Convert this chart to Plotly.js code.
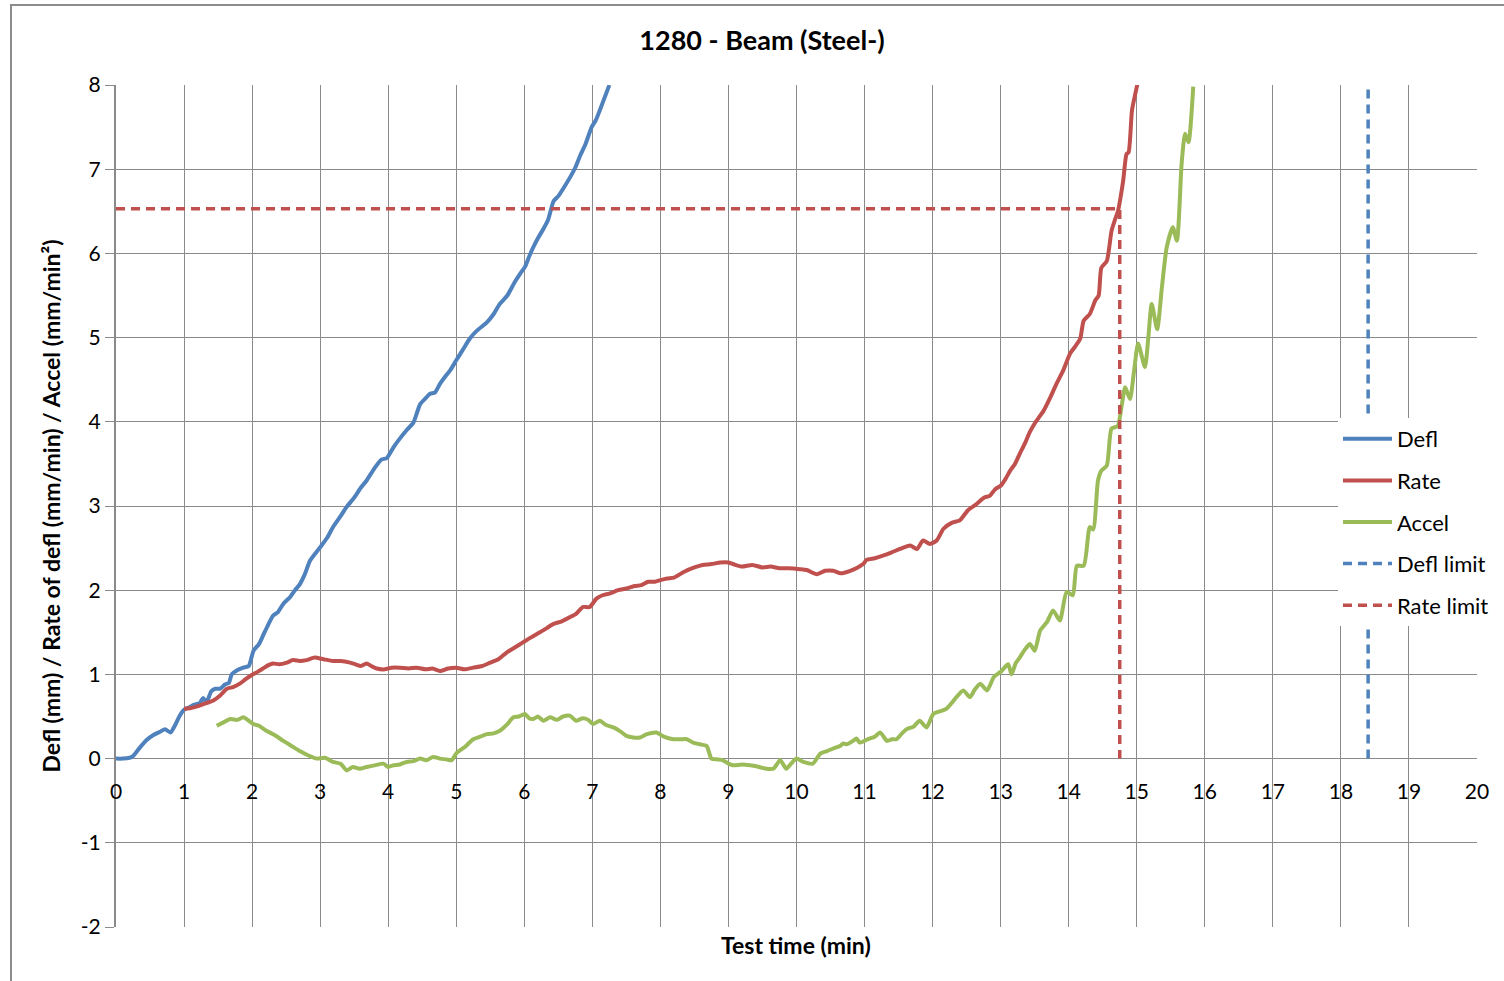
<!DOCTYPE html>
<html>
<head>
<meta charset="utf-8">
<script src="https://cdn.plot.ly/plotly-3.0.1.min.js"></script>
<style>html,body{margin:0;padding:0;background:#fff;}#chart{width:1504px;height:981px;}</style>
</head>
<body>
<div id="chart"></div>
<script>
// ---- Data ----
const chartTitle = "1280 - Beam (Steel-)";
const xTitle = "Test time (min)";
const yTitle = "Defl (mm) / Rate of defl (mm/min) / Accel (mm/min²)";
const seriesNames = ["Defl", "Rate", "Accel", "Defl limit", "Rate limit"];

const deflT = [0,0.1,0.2,0.25,0.35,0.45,0.55,0.65,0.72,0.8,0.87,0.93,1.0,1.08,1.15,1.23,1.28,1.33,1.4,1.46,1.53,1.6,1.66,1.7,1.78,1.87,1.95,2.02,2.1,2.16,2.23,2.31,2.38,2.46,2.56,2.63,2.7,2.78,2.85,3.0,3.1,3.19,3.3,3.39,3.5,3.6,3.68,3.8,3.9,3.98,4.08,4.17,4.27,4.37,4.47,4.55,4.61,4.69,4.76,4.85,4.91,5.0,5.1,5.2,5.3,5.45,5.55,5.64,5.75,5.86,5.94,6.01,6.07,6.13,6.2,6.28,6.35,6.43,6.5,6.58,6.67,6.75,6.82,6.9,6.99,7.05,7.11,7.18,7.25];
const deflV = [0,0,0.01,0.03,0.13,0.22,0.28,0.32,0.35,0.31,0.4,0.5,0.58,0.61,0.64,0.66,0.72,0.67,0.8,0.83,0.83,0.88,0.9,1.0,1.05,1.08,1.1,1.28,1.36,1.46,1.58,1.7,1.74,1.84,1.92,2.0,2.07,2.2,2.35,2.51,2.62,2.75,2.88,2.99,3.1,3.22,3.30,3.45,3.55,3.57,3.7,3.80,3.9,3.99,4.21,4.28,4.33,4.35,4.45,4.55,4.61,4.73,4.86,4.99,5.08,5.18,5.28,5.40,5.5,5.66,5.76,5.84,5.96,6.07,6.18,6.29,6.4,6.62,6.68,6.78,6.9,7.02,7.16,7.3,7.5,7.58,7.7,7.85,8.0];

const rateT = [1.0,1.1,1.23,1.33,1.43,1.53,1.63,1.72,1.82,1.9,1.99,2.08,2.16,2.24,2.31,2.4,2.51,2.6,2.7,2.8,2.92,3.05,3.19,3.3,3.44,3.52,3.6,3.68,3.75,3.83,3.95,4.05,4.17,4.3,4.42,4.55,4.65,4.76,4.88,5.0,5.12,5.25,5.38,5.5,5.62,5.74,5.86,5.98,6.1,6.23,6.33,6.43,6.55,6.67,6.76,6.86,6.96,7.06,7.15,7.25,7.38,7.5,7.62,7.72,7.82,7.92,8.0,8.1,8.2,8.35,8.5,8.62,8.75,8.88,9.0,9.1,9.2,9.35,9.5,9.62,9.75,9.88,10.05,10.15,10.3,10.42,10.54,10.65,10.79,10.9,10.98,11.03,11.15,11.27,11.4,11.52,11.67,11.77,11.86,11.96,12.06,12.16,12.28,12.4,12.52,12.64,12.76,12.84,12.92,13.0,13.07,13.14,13.21,13.28,13.36,13.43,13.5,13.56,13.63,13.73,13.82,13.92,14.02,14.1,14.17,14.22,14.31,14.39,14.44,14.48,14.56,14.63,14.68,14.72,14.8,14.85,14.88,14.93,14.98,15.02];
const rateV = [0.59,0.6,0.63,0.66,0.69,0.75,0.83,0.85,0.89,0.94,0.99,1.03,1.07,1.11,1.13,1.12,1.14,1.17,1.16,1.17,1.2,1.18,1.16,1.16,1.14,1.12,1.1,1.13,1.1,1.07,1.06,1.08,1.08,1.07,1.08,1.06,1.07,1.04,1.07,1.08,1.06,1.08,1.1,1.14,1.18,1.26,1.32,1.38,1.44,1.5,1.55,1.6,1.63,1.68,1.72,1.8,1.8,1.9,1.94,1.96,2.0,2.02,2.05,2.06,2.1,2.1,2.12,2.14,2.15,2.22,2.27,2.3,2.31,2.33,2.33,2.3,2.28,2.3,2.27,2.28,2.26,2.26,2.25,2.24,2.19,2.23,2.23,2.2,2.23,2.27,2.31,2.36,2.38,2.41,2.45,2.49,2.53,2.49,2.59,2.55,2.59,2.73,2.8,2.83,2.95,3.02,3.1,3.12,3.2,3.24,3.32,3.42,3.5,3.62,3.75,3.88,3.98,4.05,4.13,4.29,4.45,4.61,4.81,4.9,4.99,5.2,5.28,5.44,5.5,5.83,5.91,6.27,6.4,6.49,6.86,7.18,7.2,7.7,7.9,8.05];

const accelT = [1.48,1.58,1.68,1.78,1.87,1.95,2.02,2.1,2.21,2.33,2.46,2.58,2.7,2.82,2.95,3.07,3.19,3.3,3.39,3.48,3.58,3.68,3.8,3.93,4.0,4.07,4.17,4.27,4.37,4.47,4.56,4.66,4.76,4.86,4.93,5.01,5.13,5.25,5.35,5.45,5.55,5.64,5.74,5.84,5.92,6.01,6.07,6.13,6.2,6.28,6.38,6.48,6.57,6.67,6.76,6.86,6.94,7.01,7.11,7.2,7.31,7.4,7.5,7.6,7.7,7.8,7.94,8.05,8.19,8.3,8.39,8.48,8.58,8.68,8.75,8.84,8.92,9.0,9.07,9.2,9.32,9.45,9.56,9.66,9.76,9.85,9.92,10.0,10.1,10.24,10.35,10.45,10.54,10.64,10.69,10.74,10.83,10.88,10.93,11.05,11.15,11.23,11.33,11.4,11.47,11.55,11.62,11.72,11.81,11.91,12.01,12.1,12.2,12.28,12.35,12.45,12.55,12.62,12.7,12.8,12.9,13.0,13.11,13.16,13.22,13.28,13.36,13.43,13.5,13.58,13.68,13.77,13.87,13.97,14.06,14.12,14.22,14.31,14.36,14.43,14.48,14.56,14.63,14.72,14.78,14.83,14.9,14.96,15.02,15.12,15.17,15.22,15.3,15.37,15.44,15.53,15.59,15.66,15.71,15.76,15.83];
const accelV = [0.39,0.43,0.47,0.46,0.49,0.45,0.41,0.39,0.33,0.28,0.21,0.15,0.09,0.04,0.0,0.01,-0.04,-0.06,-0.14,-0.1,-0.12,-0.1,-0.08,-0.06,-0.1,-0.08,-0.07,-0.04,-0.03,0.0,-0.02,0.02,0.0,-0.01,-0.02,0.07,0.14,0.23,0.26,0.29,0.3,0.33,0.4,0.49,0.5,0.53,0.48,0.47,0.5,0.45,0.49,0.46,0.5,0.51,0.45,0.48,0.46,0.41,0.45,0.4,0.37,0.33,0.27,0.25,0.25,0.29,0.31,0.26,0.23,0.23,0.23,0.19,0.17,0.15,0.0,-0.01,-0.02,-0.06,-0.08,-0.07,-0.08,-0.1,-0.12,-0.12,-0.02,-0.12,-0.06,0.0,-0.04,-0.06,0.06,0.09,0.12,0.15,0.18,0.17,0.21,0.24,0.19,0.23,0.26,0.31,0.21,0.23,0.23,0.3,0.35,0.38,0.45,0.37,0.53,0.56,0.59,0.66,0.73,0.81,0.73,0.82,0.89,0.81,0.97,1.03,1.12,1.0,1.13,1.2,1.3,1.36,1.28,1.52,1.62,1.76,1.64,1.98,1.94,2.29,2.29,2.75,2.72,3.3,3.42,3.48,3.92,3.95,4.2,4.41,4.27,4.6,4.93,4.65,5.0,5.4,5.1,5.6,6.07,6.31,6.15,7.07,7.42,7.32,7.98];

const deflLimitT = [18.4, 18.4];
const deflLimitV = [0, 8];
const rateLimitT = [0, 14.75, 14.75];
const rateLimitV = [6.53, 6.53, 0];

const yTicks = [-2,-1,0,1,2,3,4,5,6,7,8];
const xTicks = [0,1,2,3,4,5,6,7,8,9,10,11,12,13,14,15,16,17,18,19,20];

// ---- Styling ----
const BLUE = "#4F81BD", RED = "#C0504D", GREEN = "#9BBB59";
const GRID = "#8a8a8a";
const FONT = "Lato, 'Open Sans', sans-serif";

const traces = [
  {x: deflT, y: deflV, name: seriesNames[0], line: {color: BLUE, width: 4, shape: "spline", smoothing: 0.6}},
  {x: rateT, y: rateV, name: seriesNames[1], line: {color: RED, width: 4, shape: "spline", smoothing: 0.6}},
  {x: accelT, y: accelV, name: seriesNames[2], line: {color: GREEN, width: 4, shape: "spline", smoothing: 0.6}},
  {x: deflLimitT, y: deflLimitV, name: seriesNames[3], line: {color: BLUE, width: 3.5, dash: "9px,6px"}},
  {x: rateLimitT, y: rateLimitV, name: seriesNames[4], line: {color: RED, width: 3.5, dash: "9px,6px"}}
].map((t, i) => Object.assign(t, {type: "scatter", mode: "lines", legendgroup: "g" + i, hoverinfo: "skip"}));

// plot area pixel geometry
const L = 116, R = 27, T = 85, B = 54, W = 1504, H = 981;
const pw = W - L - R, ph = H - T - B;
const px2x = p => (p - L) / pw;
const py2y = p => (H - B - p) / ph;

const layout = {
  width: W, height: H,
  margin: {l: L, r: R, t: T, b: B, autoexpand: false},
  paper_bgcolor: "#fff", plot_bgcolor: "#fff",
  font: {family: FONT, size: 20, color: "#000"},
  showlegend: true,
  title: {text: chartTitle, x: 762 / W, xref: "container", xanchor: "center", y: 1 - 41 / H, yref: "container", yanchor: "middle",
          font: {family: FONT, size: 27, weight: "bold", color: "#000"}},
  xaxis: {
    range: [0, 20], tickvals: xTicks, ticktext: xTicks.map(String),
    anchor: "free", position: 0.2,
    showgrid: true, gridcolor: GRID, gridwidth: 1,
    zeroline: false, showline: false,
    ticks: "outside", ticklen: 14, tickcolor: "rgba(0,0,0,0)",
    tickfont: {family: FONT, size: 21, color: "#000"}
  },
  yaxis: {
    range: [-2, 8], tickvals: yTicks, ticktext: yTicks.map(String),
    showgrid: true, gridcolor: GRID, gridwidth: 1,
    zeroline: false, showline: true, linecolor: GRID, linewidth: 2,
    ticks: "outside", ticklen: 9, tickcolor: GRID,
    tickfont: {family: FONT, size: 21, color: "#000"},
    title: {text: yTitle, standoff: 14, font: {family: FONT, size: 23, weight: "bold", color: "#000"}}
  },
  legend: {
    x: px2x(1338), y: py2y(418), xanchor: "left", yanchor: "top",
    bgcolor: "#fff", borderwidth: 0,
    font: {family: FONT, size: 22, color: "#000"},
    itemwidth: 49,
    traceorder: "grouped", tracegroupgap: 10
  },
  annotations: [
    {text: xTitle, xref: "paper", yref: "paper", x: px2x(796), y: py2y(945), xanchor: "center", yanchor: "middle",
     showarrow: false, font: {family: FONT, size: 23, weight: "bold", color: "#000"}}
  ],
  shapes: [
    {type: "rect", xref: "paper", yref: "paper", x0: px2x(11), x1: px2x(1540), y0: py2y(1010), y1: py2y(5),
     line: {color: "#8c8c8c", width: 2}, fillcolor: "rgba(0,0,0,0)", layer: "below"}
  ]
};

Plotly.newPlot("chart", traces, layout, {displayModeBar: false, staticPlot: true});
</script>
</body>
</html>
